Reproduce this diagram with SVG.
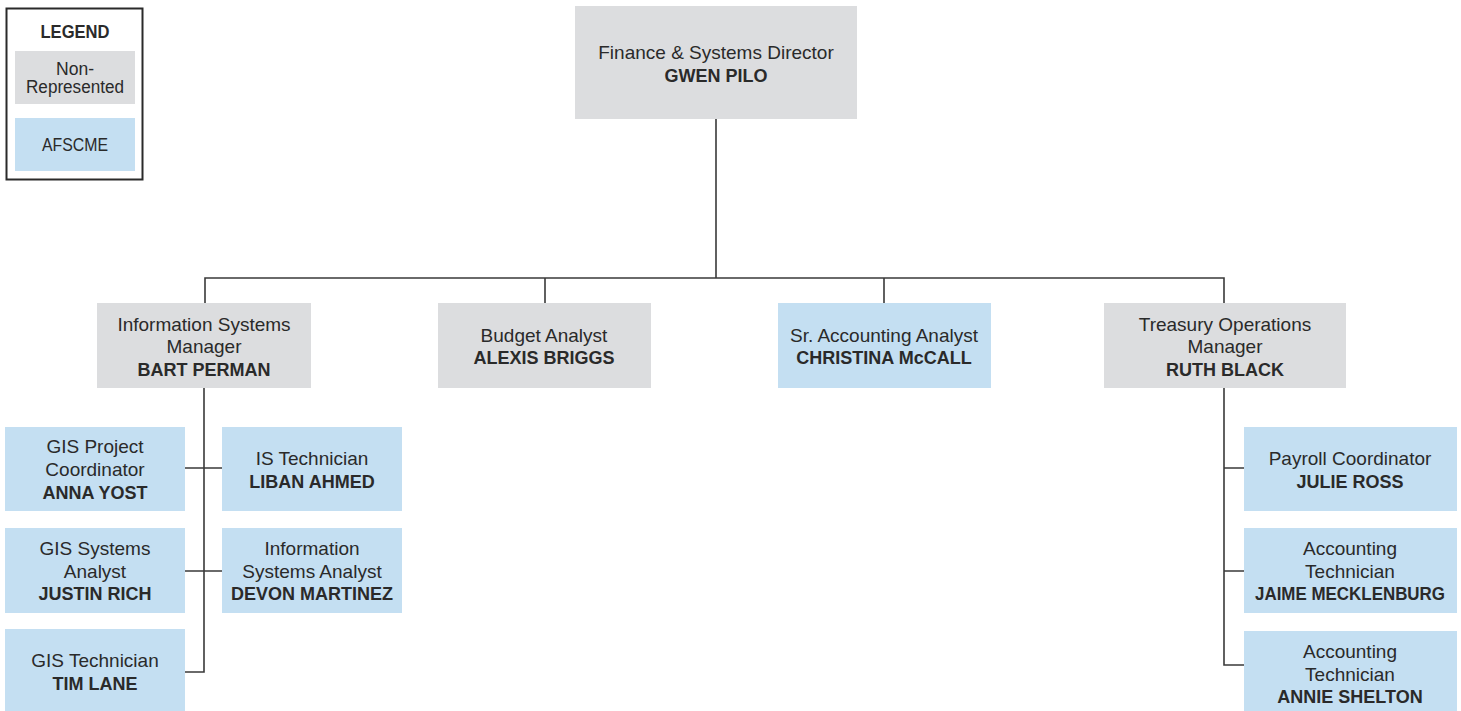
<svg xmlns="http://www.w3.org/2000/svg" width="1461" height="711" viewBox="0 0 1461 711">
  <style>
    .nr { fill: #dcdddf; }
    .af { fill: #c4dff2; }
    text { font-family: "Liberation Sans", Arial, sans-serif; font-size: 19px; fill: #2a2a2a; text-anchor: middle; }
    .b { font-weight: bold; font-size: 18px; }
    .lg { font-size: 17.5px; }
    .ln { fill: none; stroke: #3a3a3a; stroke-width: 1.6; }
  </style>
  <rect width="1461" height="711" fill="#ffffff"/>

  <!-- legend -->
  <g id="legend">
    <rect x="6.5" y="8.5" width="136" height="171" fill="#ffffff" stroke="#2a2a2a" stroke-width="2"/>
    <text x="75" y="38" class="b lg" textLength="69" lengthAdjust="spacingAndGlyphs">LEGEND</text>
    <rect class="nr" x="15" y="51" width="120" height="53"/>
    <text x="75" y="75" class="lg" textLength="38" lengthAdjust="spacingAndGlyphs">Non-</text>
    <text x="75" y="93" class="lg" textLength="98" lengthAdjust="spacingAndGlyphs">Represented</text>
    <rect class="af" x="15" y="118" width="120" height="53"/>
    <text x="75" y="151" class="lg" textLength="66" lengthAdjust="spacingAndGlyphs">AFSCME</text>
  </g>

  <!-- connectors -->
  <g id="connectors" class="ln">
    <path d="M716 119 V278 M205 304 V278 H1224 V304 M545 278 V304 M884 278 V304"/>
    <path d="M204 388 V672 H185 M185 468 H222 M185 571 H222"/>
    <path d="M1224 388 V665 H1244 M1224 468 H1244 M1224 571 H1244"/>
  </g>

  <g id="director">
    <rect class="nr" x="575" y="6" width="282" height="113"/>
    <text x="716" y="59">Finance &amp; Systems Director</text>
    <text x="716" y="82" class="b">GWEN PILO</text>
  </g>

  <g id="is-manager">
    <rect class="nr" x="97" y="303" width="214" height="85"/>
    <text x="204" y="331">Information Systems</text>
    <text x="204" y="353">Manager</text>
    <text x="204" y="376" class="b">BART PERMAN</text>
  </g>

  <g id="budget-analyst">
    <rect class="nr" x="438" y="303" width="213" height="85"/>
    <text x="544" y="342">Budget Analyst</text>
    <text x="544" y="364" class="b">ALEXIS BRIGGS</text>
  </g>

  <g id="sr-accounting-analyst">
    <rect class="af" x="778" y="303" width="213" height="85"/>
    <text x="884" y="342">Sr. Accounting Analyst</text>
    <text x="884" y="364" class="b">CHRISTINA McCALL</text>
  </g>

  <g id="treasury-manager">
    <rect class="nr" x="1104" y="303" width="242" height="85"/>
    <text x="1225" y="331">Treasury Operations</text>
    <text x="1225" y="353">Manager</text>
    <text x="1225" y="376" class="b">RUTH BLACK</text>
  </g>

  <g id="gis-project-coordinator">
    <rect class="af" x="5" y="427" width="180" height="84"/>
    <text x="95" y="453">GIS Project</text>
    <text x="95" y="476">Coordinator</text>
    <text x="95" y="499" class="b">ANNA YOST</text>
  </g>

  <g id="gis-systems-analyst">
    <rect class="af" x="5" y="528" width="180" height="85"/>
    <text x="95" y="555">GIS Systems</text>
    <text x="95" y="578">Analyst</text>
    <text x="95" y="600" class="b">JUSTIN RICH</text>
  </g>

  <g id="gis-technician">
    <rect class="af" x="5" y="629" width="180" height="85"/>
    <text x="95" y="667">GIS Technician</text>
    <text x="95" y="690" class="b">TIM LANE</text>
  </g>

  <g id="is-technician">
    <rect class="af" x="222" y="427" width="180" height="84"/>
    <text x="312" y="465">IS Technician</text>
    <text x="312" y="488" class="b">LIBAN AHMED</text>
  </g>

  <g id="is-analyst">
    <rect class="af" x="222" y="528" width="180" height="85"/>
    <text x="312" y="555">Information</text>
    <text x="312" y="578">Systems Analyst</text>
    <text x="312" y="600" class="b">DEVON MARTINEZ</text>
  </g>

  <g id="payroll-coordinator">
    <rect class="af" x="1244" y="427" width="213" height="84"/>
    <text x="1350" y="465">Payroll Coordinator</text>
    <text x="1350" y="488" class="b">JULIE ROSS</text>
  </g>

  <g id="accounting-tech-1">
    <rect class="af" x="1244" y="528" width="213" height="85"/>
    <text x="1350" y="555">Accounting</text>
    <text x="1350" y="578">Technician</text>
    <text x="1350" y="600" class="b" textLength="190" lengthAdjust="spacingAndGlyphs">JAIME MECKLENBURG</text>
  </g>

  <g id="accounting-tech-2">
    <rect class="af" x="1244" y="631" width="213" height="85"/>
    <text x="1350" y="658">Accounting</text>
    <text x="1350" y="681">Technician</text>
    <text x="1350" y="703" class="b">ANNIE SHELTON</text>
  </g>
</svg>
